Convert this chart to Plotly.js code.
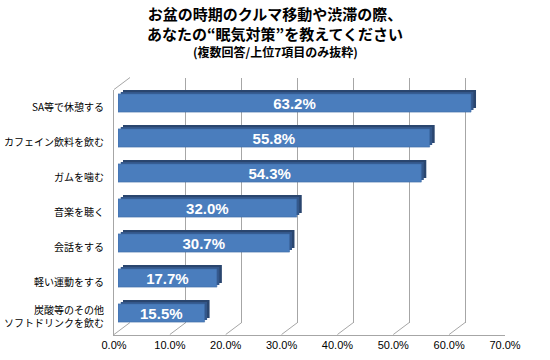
<!DOCTYPE html>
<html><head><meta charset="utf-8">
<script src="https://cdn.plot.ly/plotly-3.0.1.min.js"></script>
<style>html,body{margin:0;padding:0;background:#fff}#chart{width:550px;height:360px}</style>
</head><body><div id="chart"></div>
<script>
const categories = ['SA等で休憩する','カフェイン飲料を飲む','ガムを噛む','音楽を聴く','会話をする','軽い運動をする','炭酸等のその他<br>ソフトドリンクを飲む'];
const values = [63.2, 55.8, 54.3, 32.0, 30.7, 17.7, 15.5];
const valueLabels = ['63.2%','55.8%','54.3%','32.0%','30.7%','17.7%','15.5%'];
const tickValues = [0,10,20,30,40,50,60,70];
const tickLabels = ['0.0%','10.0%','20.0%','30.0%','40.0%','50.0%','60.0%','70.0%'];
const titleLines = ['お盆の時期のクルマ移動や渋滞の際、','あなたの“眠気対策”を教えてください','(複数回答/上位7項目のみ抜粋)'];

const W = 550, H = 360;
const xL = 114, xR = 505, yT = 89.5, yB = 334.5;
const unit = (xR - xL) / 70;
function xd(dx){ return [(xL+dx)/W, (xR+dx)/W]; }
function yd(dy){ return [1-(yB+dy)/H, 1-(yT+dy)/H]; }
const back = [16,-12], far = [9,-8], mid = [6.5,-6], face = [4,-4];
const jp = '"Noto Sans CJK JP", "Noto Sans", sans-serif';

function hiddenX(dom){ return {domain: dom, range:[0,70], showticklabels:false, showgrid:false, zeroline:false, showline:false, fixedrange:true}; }
function hiddenY(dom, ax){ return {domain: dom, type:'category', categoryorder:'array', categoryarray:categories, range:[6.5,-0.5], showticklabels:false, showgrid:false, zeroline:false, showline:false, anchor: ax, fixedrange:true}; }

const barW = 0.52;
const traces = [
  {type:'scatter', mode:'none', x: values, y: categories, xaxis:'x', yaxis:'y', hoverinfo:'skip', showlegend:false},
  {type:'scatter', mode:'none', x: values, y: categories, xaxis:'x2', yaxis:'y2', hoverinfo:'skip', showlegend:false},
  {type:'bar', orientation:'h', x: values, y: categories, xaxis:'x3', yaxis:'y3', width: barW, marker:{color:'#2a466f'}, hoverinfo:'skip', showlegend:false},
  {type:'bar', orientation:'h', x: values, y: categories, xaxis:'x4', yaxis:'y4', width: barW, marker:{color:'#34578a'}, hoverinfo:'skip', showlegend:false},
  {type:'bar', orientation:'h', x: values, y: categories, xaxis:'x5', yaxis:'y5', width: barW,
   marker:{color:'#4a7dbd', line:{color:'#3d6aa5', width:0.6}},
   text: valueLabels, textposition:'inside', insidetextanchor:'middle', constraintext:'none', textangle:0,
   textfont:{color:'#ffffff', size:15, family:'"Liberation Sans", Arial, sans-serif', weight:'bold'},
   hoverinfo:'skip', showlegend:false}
];

const bf = 1-(yB+back[1])/H, bt = 1-(yT+back[1])/H;
const shapes = [];
tickValues.forEach(k => {
  shapes.push({type:'line', xref:'x', yref:'paper', x0:k, x1:k+back[0]/unit, y0:1-yB/H, y1:bf, line:{color:'#a6a6a6', width:1}, layer:'below'});
});
shapes.push({type:'line', xref:'x', yref:'paper', x0:0, x1:back[0]/unit, y0:1-yT/H, y1:bt, line:{color:'#a6a6a6', width:1}, layer:'below'});

const layout = {
  width: W, height: H,
  margin:{l:0,r:0,t:0,b:0},
  paper_bgcolor:'#ffffff', plot_bgcolor:'rgba(0,0,0,0)',
  showlegend:false,
  title:{text: titleLines[0],
    font:{family:jp, size:15, color:'#000', weight:'bold'}, x:0.5, xanchor:'center', xref:'paper', y:1-15/H, yanchor:'middle', yref:'container'},
  annotations:[
    {text: titleLines[1], xref:'paper', yref:'paper', x:0.5, y:1-33/H, xanchor:'center', yanchor:'middle', showarrow:false,
     font:{family:jp, size:15, color:'#000', weight:'bold'}},
    {text: titleLines[2], xref:'paper', yref:'paper', x:0.5, y:1-52/H, xanchor:'center', yanchor:'middle', showarrow:false,
     font:{family:jp, size:12, color:'#000', weight:'bold'}}
  ],
  xaxis:{domain: xd(0), range:[0,70], tickmode:'array', tickvals: tickValues, ticktext: tickLabels, ticks:'', showgrid:false, zeroline:false,
    showline:true, linecolor:'#a6a6a6', linewidth:1, tickfont:{family:'"Liberation Sans", Arial, sans-serif', size:11, color:'#000'}, anchor:'y', fixedrange:true},
  yaxis:{domain: yd(0), type:'category', categoryorder:'array', categoryarray:categories, range:[6.5,-0.5], ticks:'', showgrid:false, zeroline:false,
    showline:true, linecolor:'#a6a6a6', linewidth:1, tickfont:{family:jp, size:10, color:'#000'}, ticklabelstandoff:7, anchor:'x', fixedrange:true},
  xaxis2: Object.assign(hiddenX(xd(back[0])), {showgrid:true, gridcolor:'#a6a6a6', gridwidth:1, tickmode:'array', tickvals: tickValues, anchor:'y2'}),
  yaxis2: hiddenY(yd(back[1]), 'x2'),
  xaxis3: Object.assign(hiddenX(xd(far[0])), {anchor:'y3'}),
  yaxis3: hiddenY(yd(far[1]), 'x3'),
  xaxis4: Object.assign(hiddenX(xd(mid[0])), {anchor:'y4'}),
  yaxis4: hiddenY(yd(mid[1]), 'x4'),
  xaxis5: Object.assign(hiddenX(xd(face[0])), {anchor:'y5'}),
  yaxis5: hiddenY(yd(face[1]), 'x5'),
  shapes: shapes
};

Plotly.newPlot('chart', traces, layout, {displayModeBar:false, staticPlot:true});
</script></body></html>
